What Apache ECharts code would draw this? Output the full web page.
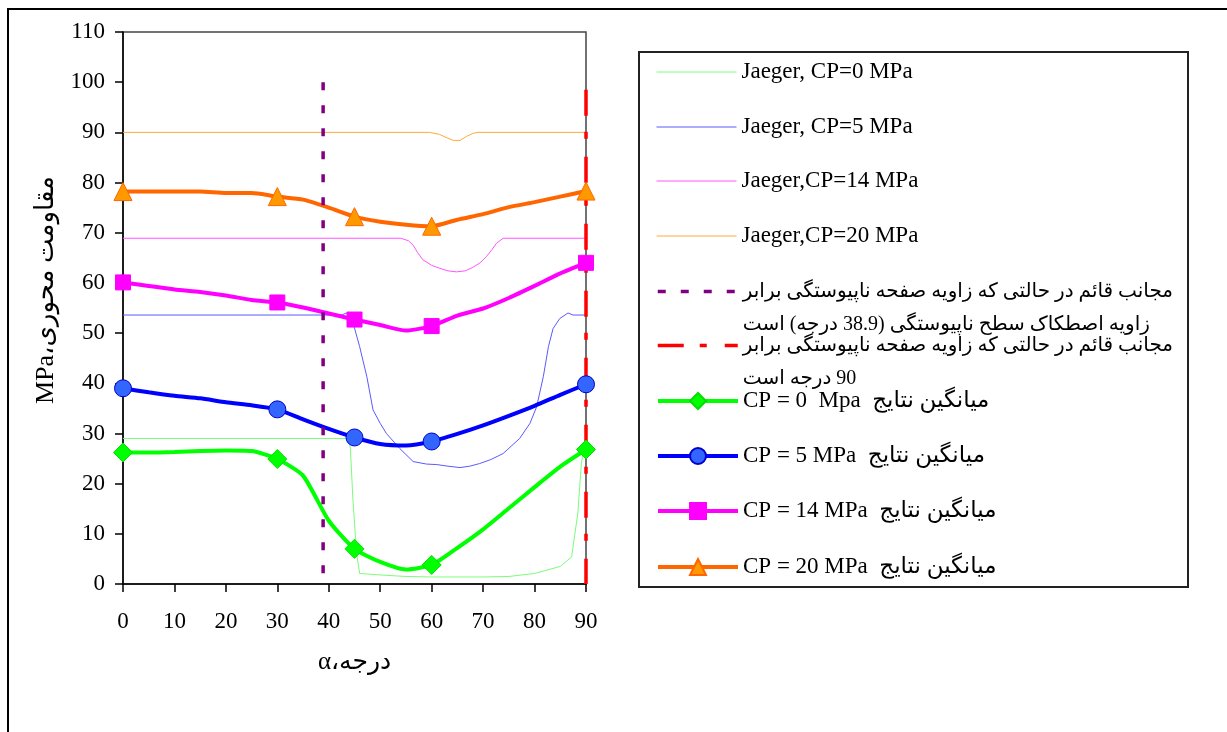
<!DOCTYPE html>
<html>
<head>
<meta charset="utf-8">
<script src="https://cdn.jsdelivr.net/npm/echarts@6/dist/echarts.min.js"></script>
<style>
  html, body { margin: 0; padding: 0; background: #fff; }
  #main { width: 1227px; height: 732px; }
</style>
</head>
<body>
<div id="main"></div>
<script>
// زاویه (درجه)
const angles = [0, 5, 10, 15, 20, 25, 30, 35, 40, 45, 50, 55, 60, 65, 70, 75, 80, 85, 90]
// زوایایی که نشانگر دارند
const markerAngles = [0, 30, 45, 60, 90]

// میانگین نتایج
const avgCP0 = [26.2, 26.2, 26.3, 26.5, 26.6, 26.5, 24.9, 21.6, 12.6, 7.0, 4.4, 2.9, 3.8, 7.2, 10.9, 15.1, 19.3, 23.4, 26.8]
const avgCP5 = [39.0, 38.2, 37.5, 37.0, 36.2, 35.6, 34.8, 32.8, 30.9, 29.2, 27.9, 27.6, 28.4, 29.9, 31.6, 33.5, 35.5, 37.7, 39.8]
const avgCP14 = [60.1, 59.4, 58.7, 58.2, 57.5, 56.6, 56.1, 55.1, 53.9, 52.7, 51.6, 50.5, 51.4, 53.5, 54.9, 57.0, 59.4, 61.9, 64.0]
const avgCP20 = [78.2, 78.2, 78.2, 78.2, 77.9, 77.9, 77.2, 76.6, 75.0, 73.2, 72.2, 71.6, 71.3, 72.6, 73.7, 75.1, 76.1, 77.2, 78.3]

// Jaeger
const jaeger0X = [0, 43.9, 44.2, 44.7, 45.4, 46, 50, 55, 60, 65, 70, 75, 80, 85, 87.2, 88.4, 89.1, 89.6, 90]
const jaeger0Y = [29, 29, 27, 16.7, 6.2, 2.1, 1.8, 1.5, 1.4, 1.4, 1.4, 1.5, 2.1, 3.5, 5.4, 14, 24, 27, 28]
const jaeger5X = [0, 42.5, 43.4, 44.1, 45, 46, 47.4, 48.6, 50, 51.2, 53.8, 56.4, 59, 61, 63, 65.5, 67.5, 69.3, 71.5, 73.9, 77.1, 79.1, 80.4, 81.7, 82.7, 83.6, 84.9, 86.5, 87.5, 90]
const jaeger5Y = [53.6, 53.6, 54.0, 53.6, 51, 47.3, 41.3, 34.7, 32.0, 30.0, 27.0, 24.4, 23.9, 23.8, 23.5, 23.2, 23.5, 24.0, 24.8, 26.0, 29.0, 32.0, 35.3, 41.3, 47.3, 50.9, 52.9, 54.0, 53.6, 53.6]
const jaeger14X = [0, 54, 55.5, 56.4, 57.3, 58.3, 60, 61.6, 63.2, 64.8, 66.5, 68, 69.4, 70.6, 71.7, 72.6, 73.9, 90]
const jaeger14Y = [68.9, 68.9, 68.4, 67.5, 66.0, 64.6, 63.5, 62.9, 62.4, 62.2, 62.4, 63.1, 64.0, 65.2, 66.6, 67.9, 68.9, 68.9]
const jaeger20X = [0, 59.6, 61.5, 63, 64.2, 65.5, 66.8, 68, 69, 90]
const jaeger20Y = [90, 90, 89.6, 88.9, 88.4, 88.4, 89.2, 89.8, 90, 90]

// مجانب‌های قائم (از بالا به پایین تا الگوی خط‌چین از بالا شروع شود)
const frictionAngle = 38.9
const frictionLineY = [100, 0]
const rightAngle = 90
const rightLineY = [98.5, 0]

// نام‌ها
const names = {
  j0: 'Jaeger, CP=0 MPa',
  j5: 'Jaeger, CP=5 MPa',
  j14: 'Jaeger,CP=14 MPa',
  j20: 'Jaeger,CP=20 MPa',
  asym1: 'مجانب قائم در حالتی که زاویه صفحه ناپیوستگی برابر\nزاویه اصطکاک سطح ناپیوستگی (38.9 درجه) است',
  asym2: 'مجانب قائم در حالتی که زاویه صفحه ناپیوستگی برابر\n\u200F90 درجه است',
  a0: 'CP = 0  Mpa  میانگین نتایج',
  a5: 'CP = 5 MPa  میانگین نتایج',
  a14: 'CP = 14 MPa  میانگین نتایج',
  a20: 'CP = 20 MPa  میانگین نتایج'
}

const FONT = '"Liberation Serif", "DejaVu Sans", serif'

function zip(xs, ys) {
  return xs.map((x, i) => [x, ys[i]])
}
// فقط زوایای اصلی نشانگر دارند
function withMarkers(values) {
  return angles.map((a, i) => markerAngles.includes(a) ? [a, values[i]] : { value: [a, values[i]], symbol: 'none' })
}
function jaegerSeries(name, xs, ys, color) {
  return {
    name, type: 'line', data: zip(xs, ys), symbol: 'none',
    lineStyle: { color, width: 1 }, itemStyle: { color }, clip: false
  }
}
function avgSeries(name, values, color, symbol, size, fill, border) {
  return {
    name, type: 'line', data: withMarkers(values), smooth: 0.2,
    symbol, symbolSize: size,
    lineStyle: { color, width: 4 },
    itemStyle: { color: fill, borderColor: border, borderWidth: 1, opacity: 1 },
    clip: false, z: 3
  }
}
// هر راهنما جدا، تا فاصله‌ها مثل تصویر باشد
// kind: 'thin' خط نازک بدون نشانگر، 'dash' خط‌چین دو سطری، 'mark' خط با نشانگر
function legendAt(name, top, kind) {
  const hidden = { color: 'rgba(0,0,0,0)', borderColor: 'rgba(0,0,0,0)', borderWidth: 0, opacity: 0 }
  const leg = {
    data: [name], left: 656, top, padding: 0,
    itemWidth: 80, itemHeight: 20, selectedMode: false,
    textStyle: { fontFamily: FONT, fontSize: 23, color: '#000', lineHeight: 26 }
  }
  if (kind === 'thin') {
    leg.itemStyle = hidden
    leg.lineStyle = { width: 1 }
  } else if (kind === 'dash') {
    leg.itemStyle = hidden
    leg.lineStyle = { width: 3.5 }
    // سطر خالی اول تا سطر نخست هم‌تراز نماد باشد
    leg.formatter = n => '\n' + n
    leg.textStyle = { fontFamily: FONT, fontSize: 20, color: '#000', lineHeight: 33 }
  } else {
    leg.lineStyle = { width: 4 }
  }
  return leg
}

const chart = echarts.init(document.getElementById('main'))
const option = {
  animation: false,
  backgroundColor: '#fff',
  grid: {
    left: 123, top: 32, right: 641, bottom: 148,
    show: true, borderColor: '#444', borderWidth: 1.5
  },
  xAxis: {
    type: 'value', min: 0, max: 90, interval: 10,
    name: 'α،درجه', nameLocation: 'middle', nameGap: 66,
    nameTextStyle: { fontFamily: FONT, fontSize: 25, color: '#000' },
    axisLine: { lineStyle: { color: '#000', width: 1.5 } },
    axisTick: { inside: false, length: 8, lineStyle: { color: '#000', width: 1.5 } },
    axisLabel: { margin: 26, fontFamily: FONT, fontSize: 23, color: '#000' },
    splitLine: { show: false }
  },
  yAxis: {
    type: 'value', min: 0, max: 110, interval: 10,
    axisLine: { show: true, lineStyle: { color: '#000', width: 1.5 } },
    axisTick: { show: true, inside: false, length: 8, lineStyle: { color: '#000', width: 1.5 } },
    axisLabel: { margin: 18, fontFamily: FONT, fontSize: 23, color: '#000' },
    splitLine: { show: false }
  },
  legend: [
    legendAt(names.j0, 59, 'thin'),
    legendAt(names.j5, 114, 'thin'),
    legendAt(names.j14, 168, 'thin'),
    legendAt(names.j20, 223, 'thin'),
    legendAt(names.asym1, 242, 'dash'),
    legendAt(names.asym2, 296, 'dash'),
    legendAt(names.a0, 388, 'mark'),
    legendAt(names.a5, 443, 'mark'),
    legendAt(names.a14, 498, 'mark'),
    legendAt(names.a20, 554, 'mark')
  ],
  graphic: [
    { type: 'rect', shape: { x: 8, y: 9, width: 1240, height: 760 }, style: { fill: 'none', stroke: '#000', lineWidth: 2 }, silent: true },
    { type: 'rect', shape: { x: 639, y: 52, width: 549, height: 535 }, style: { fill: 'none', stroke: '#222', lineWidth: 2 }, silent: true },
    {
      type: 'text', x: 46, y: 290, rotation: Math.PI / 2,
      style: { text: 'MPa،مقاومت محوری', font: '26px "Liberation Serif", "DejaVu Sans"', fill: '#000', align: 'center', verticalAlign: 'middle' },
      silent: true
    }
  ],
  series: [
    jaegerSeries(names.j0, jaeger0X, jaeger0Y, '#7CFC7C'),
    jaegerSeries(names.j5, jaeger5X, jaeger5Y, '#5A5AFF'),
    jaegerSeries(names.j14, jaeger14X, jaeger14Y, '#FF55FF'),
    jaegerSeries(names.j20, jaeger20X, jaeger20Y, '#FFAA33'),
    {
      name: names.asym2, type: 'line', symbol: 'none', clip: false,
      data: rightLineY.map(y => [rightAngle, y]),
      lineStyle: { color: '#FF0000', width: 3.5, type: [26, 16, 7, 18] },
      itemStyle: { color: '#FF0000' }
    },
    avgSeries(names.a0, avgCP0, '#00FF00', 'diamond', 19, '#00FF00', '#00E000'),
    avgSeries(names.a5, avgCP5, '#0000FF', 'circle', 17, '#3366FF', '#0000CC'),
    avgSeries(names.a14, avgCP14, '#FF00FF', 'rect', 15, '#FF00FF', '#FF00FF'),
    avgSeries(names.a20, avgCP20, '#FF6600', 'triangle', 18, '#FF9900', '#FF6600'),
    {
      name: names.asym1, type: 'line', symbol: 'none', clip: false, z: 4,
      data: frictionLineY.map(y => [frictionAngle, y]),
      lineStyle: { color: '#800080', width: 3.5, type: [8, 15] },
      itemStyle: { color: '#800080' }
    }
  ]
}
chart.setOption(option)
window.addEventListener('resize', chart.resize)
</script>
</body>
</html>
